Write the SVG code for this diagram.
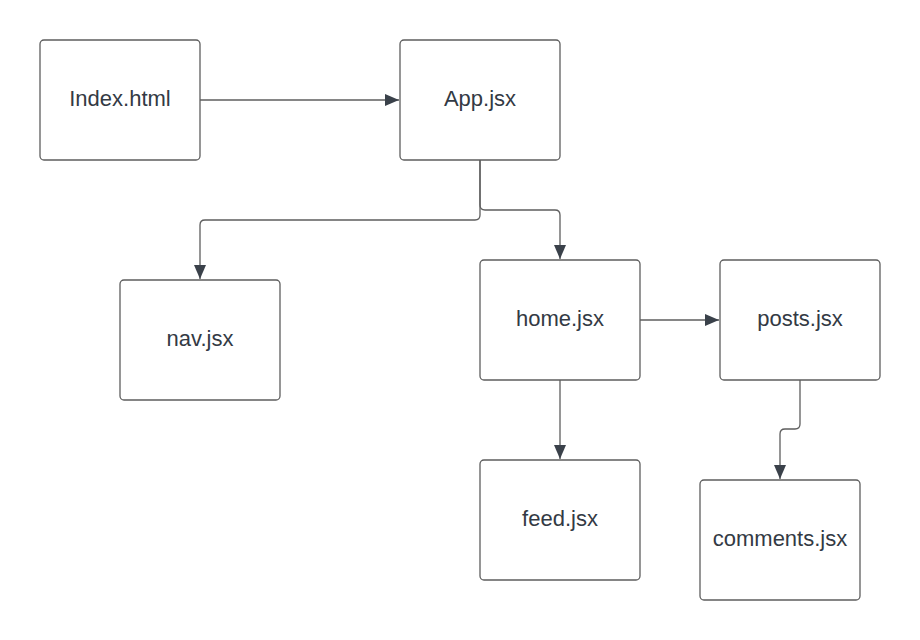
<svg xmlns="http://www.w3.org/2000/svg" width="920" height="640" viewBox="0 0 920 640">
<defs>
<style>
.box{fill:#ffffff;stroke:#5e5e5e;stroke-width:1.3}
.lbl{font-family:"Liberation Sans",Arial,sans-serif;font-size:22px;fill:#333a44;text-anchor:middle}
.con{fill:none;stroke:#5e5e5e;stroke-width:1.3}
</style>
<marker id="arr" markerWidth="14" markerHeight="12" viewBox="0 0 14 12" refX="14" refY="6" orient="auto" markerUnits="userSpaceOnUse">
<path d="M0,0 L14,6 L0,12 Z" fill="#3a414a"/>
</marker>
</defs>
<rect width="920" height="640" fill="#ffffff"/>
<g id="connectors">
<path class="con" d="M200,100 L399,100" marker-end="url(#arr)"/>
<path class="con" d="M480,160 L480,215 Q480,220 475,220 L205,220 Q200,220 200,225 L200,279" marker-end="url(#arr)"/>
<path class="con" d="M480,160 L480,205 Q480,210 485,210 L555,210 Q560,210 560,215 L560,259" marker-end="url(#arr)"/>
<path class="con" d="M640,320 L719,320" marker-end="url(#arr)"/>
<path class="con" d="M560,380 L560,459" marker-end="url(#arr)"/>
<path class="con" d="M800,380 L800,424 Q800,429 795,429 L785,429 Q780,429 780,434 L780,479" marker-end="url(#arr)"/>
</g>
<g id="index"><rect class="box" x="40" y="40" width="160" height="120" rx="4"/><text class="lbl" x="120" y="106">Index.html</text></g>
<g id="app"><rect class="box" x="400" y="40" width="160" height="120" rx="4"/><text class="lbl" x="480" y="106">App.jsx</text></g>
<g id="nav"><rect class="box" x="120" y="280" width="160" height="120" rx="4"/><text class="lbl" x="200" y="346">nav.jsx</text></g>
<g id="home"><rect class="box" x="480" y="260" width="160" height="120" rx="4"/><text class="lbl" x="560" y="326">home.jsx</text></g>
<g id="posts"><rect class="box" x="720" y="260" width="160" height="120" rx="4"/><text class="lbl" x="800" y="326">posts.jsx</text></g>
<g id="feed"><rect class="box" x="480" y="460" width="160" height="120" rx="4"/><text class="lbl" x="560" y="526">feed.jsx</text></g>
<g id="comments"><rect class="box" x="700" y="480" width="160" height="120" rx="4"/><text class="lbl" x="780" y="546">comments.jsx</text></g>
</svg>
